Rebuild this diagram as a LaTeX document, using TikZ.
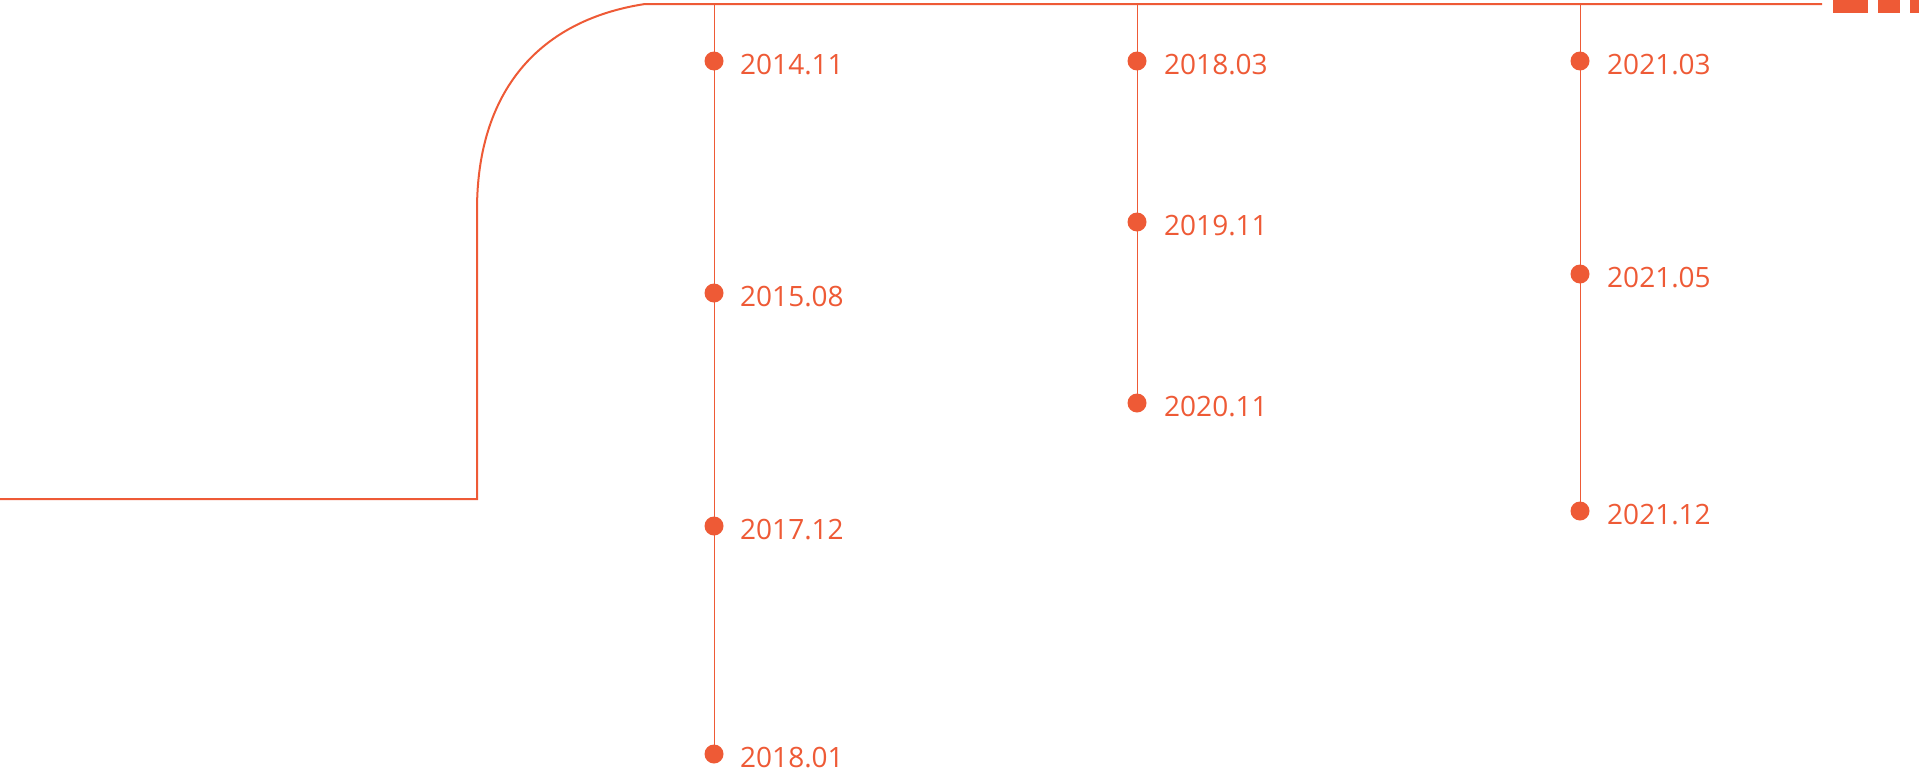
\documentclass[tikz,border=0pt]{standalone}
\usepackage{fontspec}
\setmainfont{Open Sans}
\definecolor{tlorange}{RGB}{238,90,54}
\tikzset{
  event dot/.style={
    circle, fill=tlorange, draw=none, inner sep=0pt, minimum size=19pt
  },
  event label/.style={
    anchor=west, text=tlorange, inner sep=0pt,
    font=\fontsize{28}{30}\selectfont
  },
  main rail/.style={
    draw=tlorange, line width=2pt
  },
  branch rail/.style={
    draw=tlorange, line width=1pt
  }
}

\begin{document}
\begin{tikzpicture}[x=1pt, y=-1pt]
  \useasboundingbox (0,0) rectangle (1919,774);

% ------------------------------------------------
% main rail: bottom left, up the bend, along the top
% ------------------------------------------------
  \coordinate (railA) at (0,499);
  \coordinate (railB) at (477,499);
  \coordinate (railC) at (477,210);
  \coordinate (railD) at (645,4);
  \coordinate (railE) at (1822,4);
  \draw[main rail] (railA) -- (railB) -- (railC)
    .. controls (477,90) and (540,20) .. (railD) -- (railE);

  \fill[tlorange] (1833,0) rectangle (1868,13);
  \fill[tlorange] (1878,0) rectangle (1900,13);
  \fill[tlorange] (1910,0) rectangle (1919,13);

% ------------------------------------------------
% column 1
% ------------------------------------------------
  \coordinate (aT) at (714,4);
  \node[event dot] (a1) at (714,61) {};
  \node[event dot] (a2) at (714,293) {};
  \node[event dot] (a3) at (714,526) {};
  \node[event dot] (a4) at (714,754) {};
  \draw[branch rail] (aT) -- (a4.center);
  \node[event label] (a1t) at (740,65) {2014.11};
  \node[event label] (a2t) at (740,297) {2015.08};
  \node[event label] (a3t) at (740,530) {2017.12};
  \node[event label] (a4t) at (740,758) {2018.01};

% ------------------------------------------------
% column 2
% ------------------------------------------------
  \coordinate (bT) at (1137,4);
  \node[event dot] (b1) at (1137,61) {};
  \node[event dot] (b2) at (1137,222) {};
  \node[event dot] (b3) at (1137,403) {};
  \draw[branch rail] (bT) -- (b3.center);
  \node[event label] (b1t) at (1164,65) {2018.03};
  \node[event label] (b2t) at (1164,226) {2019.11};
  \node[event label] (b3t) at (1164,407) {2020.11};

% ------------------------------------------------
% column 3
% ------------------------------------------------
  \coordinate (cT) at (1580,4);
  \node[event dot] (c1) at (1580,61) {};
  \node[event dot] (c2) at (1580,274) {};
  \node[event dot] (c3) at (1580,511) {};
  \draw[branch rail] (cT) -- (c3.center);
  \node[event label] (c1t) at (1607,65) {2021.03};
  \node[event label] (c2t) at (1607,278) {2021.05};
  \node[event label] (c3t) at (1607,515) {2021.12};
\end{tikzpicture}
\end{document}
